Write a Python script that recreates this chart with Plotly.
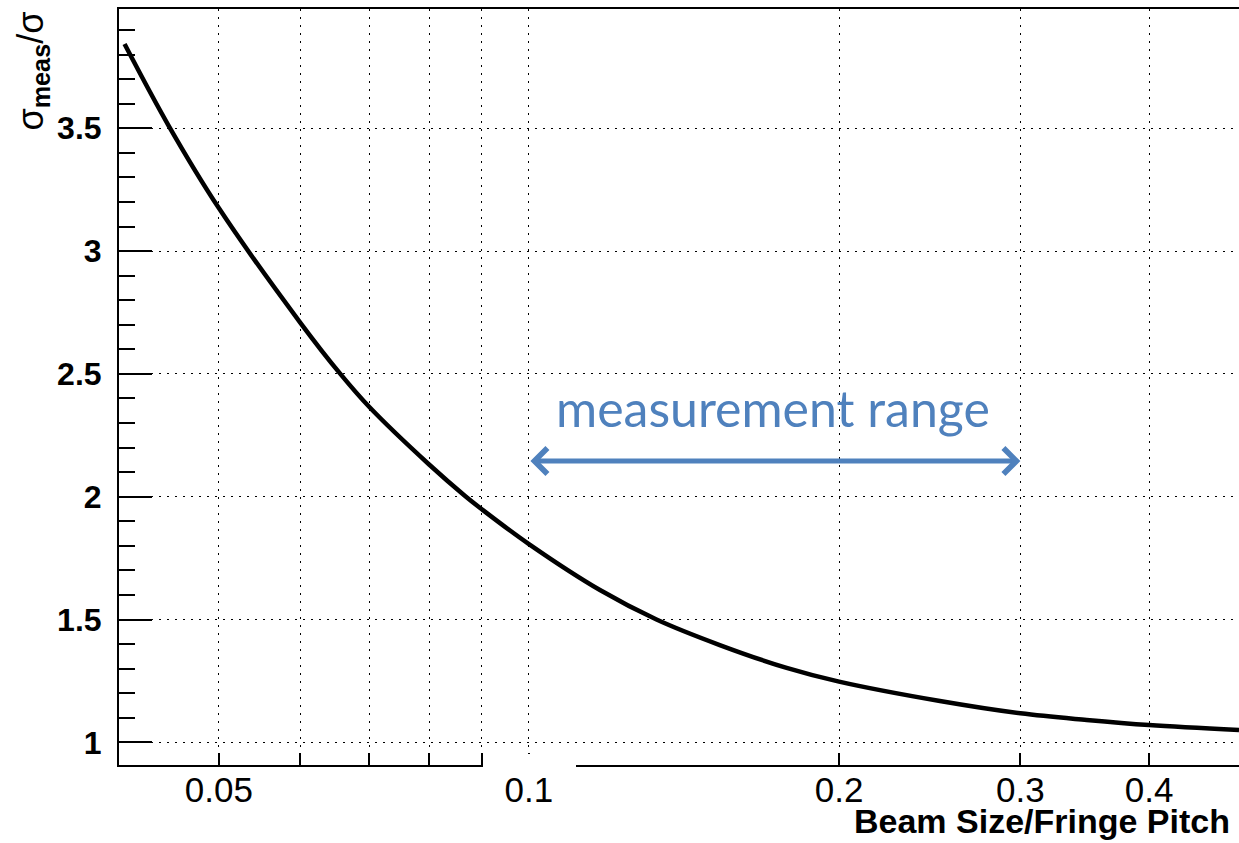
import math
import plotly.graph_objects as go

# ---- data ----
ratio = [0.0405, 0.0447, 0.05, 0.06, 0.0656, 0.07, 0.08, 0.0867, 0.09,
         0.1, 0.1172, 0.133, 0.1532, 0.1779, 0.2, 0.2506, 0.3, 0.3479, 0.4, 0.489]
sigma_ratio = [3.843, 3.51, 3.175, 2.708, 2.5, 2.365, 2.131, 2.003, 1.949,
               1.807, 1.620, 1.5, 1.396, 1.303, 1.247, 1.168, 1.118, 1.091, 1.070, 1.050]

x_tickvals = [0.05, 0.06, 0.07, 0.08, 0.09, 0.1, 0.2, 0.3, 0.4]
x_ticktext = ["0.05", "", "", "", "", "0.1", "0.2", "0.3", "0.4"]
y_tickvals = [1, 1.5, 2, 2.5, 3, 3.5]
y_ticktext = ["1", "1.5", "2", "2.5", "3", "3.5"]

range_lo, range_hi = 0.1, 0.3
x_range = [0.04, 0.489]
y_range = [0.9076, 3.9857]

# page is rendered with the body margin removed (see post_script)
W, H = 1239, 843
PL, PR, PT, PB = 119, 1239, 9, 765          # plot area in page pixels
ML, MR, MT, MB = PL, W - PR, PT, H - PB
PW = PR - PL
PH = PB - PT


def px_x(p):
    return (p - PL) / PW


def px_y(p):
    return (PB - p) / PH


BLUE = "#4F81BD"
FONT = "Liberation Sans, Arial, Helvetica, sans-serif"

fig = go.Figure()
fig.add_trace(go.Scatter(
    x=ratio, y=sigma_ratio, mode="lines",
    line=dict(color="black", width=4.5, shape="spline", smoothing=1.0),
    hoverinfo="skip", showlegend=False,
))

fig.update_layout(
    width=W, height=H,
    margin=dict(l=ML, r=MR, t=MT, b=MB, pad=0),
    paper_bgcolor="white", plot_bgcolor="white",
    showlegend=False,
    font=dict(family=FONT, color="black"),
    xaxis=dict(
        type="log", range=[math.log10(x_range[0]), math.log10(x_range[1])],
        tickvals=x_tickvals, ticktext=x_ticktext,
        ticks="inside", ticklen=12, tickwidth=1.5, tickcolor="black",
        showline=True, linewidth=2, linecolor="black", mirror=True,
        showgrid=True, gridcolor="black", gridwidth=1.3, griddash="2px,6px",
        zeroline=False,
        tickfont=dict(size=35, family=FONT, color="black"),
        ticklabelstandoff=-7,
    ),
    yaxis=dict(
        range=y_range,
        tickvals=y_tickvals, ticktext=y_ticktext,
        ticks="inside", ticklen=33, tickwidth=1.5, tickcolor="black",
        minor=dict(dtick=0.1, ticks="inside", ticklen=16, tickwidth=1.5,
                   tickcolor="black", showgrid=False),
        showline=True, linewidth=2, linecolor="black",
        showgrid=True, gridcolor="black", gridwidth=1.3, griddash="2px,6px",
        zeroline=False,
        tickfont=dict(size=32, family=FONT, color="black", weight="bold"),
        ticklabelstandoff=9,
    ),
)

# white patch over the bottom axis (as in the reference)
fig.add_shape(type="rect", xref="paper", yref="paper",
              x0=px_x(483), x1=px_x(576), y0=px_y(772), y1=px_y(754),
              fillcolor="white", line=dict(width=0), layer="above")
# long tick at 0.1
fig.add_shape(type="line", xref="x", yref="paper",
              x0=math.log10(0.1), x1=math.log10(0.1), y0=px_y(754), y1=px_y(736),
              line=dict(color="black", width=2), layer="above")

# axis titles
fig.add_annotation(
    text="<b>Beam Size/Fringe Pitch</b>", xref="paper", yref="paper",
    x=px_x(1232), y=px_y(821), xanchor="right", yanchor="middle",
    showarrow=False, font=dict(size=34, family=FONT, color="black"),
)
fig.add_annotation(
    text="σ<sub><b>meas</b></sub>/σ", xref="paper", yref="paper",
    x=px_x(8), y=px_y(10), xanchor="left", yanchor="top", textangle=-90,
    showarrow=False, font=dict(size=36, family=FONT, color="black"),
)

# measurement range arrow and label
fig.add_annotation(
    x=math.log10(range_hi), y=2.145, ax=math.log10(range_lo), ay=2.145,
    xref="x", yref="y", axref="x", ayref="y", text="",
    showarrow=True, arrowside="end+start", arrowhead=4, arrowsize=1.0,
    arrowwidth=5, arrowcolor=BLUE,
)
fig.add_annotation(
    text="measurement range", xref="paper", yref="paper",
    x=px_x(773), y=px_y(408), xanchor="center", yanchor="middle",
    showarrow=False, font=dict(size=50, family="Lato, Open Sans, sans-serif", color=BLUE),
)

fig.write_html(
    "out.html",
    config={"displayModeBar": False},
    post_script="document.body.style.margin='0';document.body.style.overflow='hidden';",
)
